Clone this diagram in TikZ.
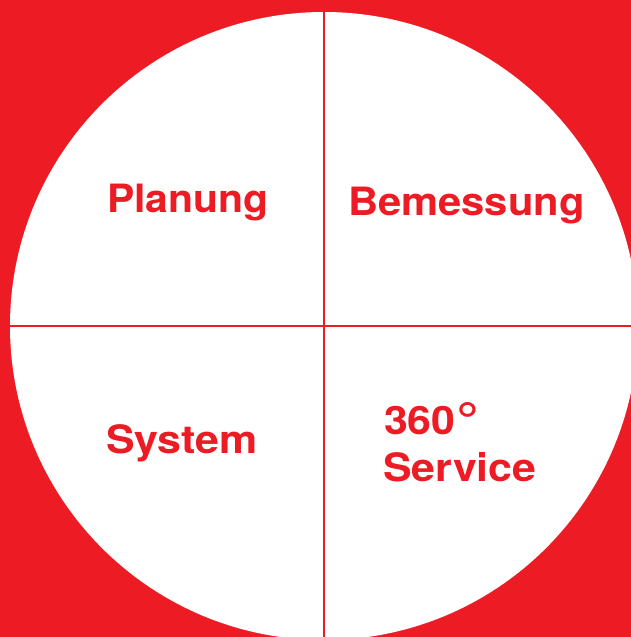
\documentclass[tikz,border=0pt]{standalone}
\usepackage{fontspec}
\setmainfont{TeX Gyre Heros}
\definecolor{brandred}{HTML}{ED1C24}
\begin{document}
\begin{tikzpicture}[x=1pt,y=-1pt,
  lbl/.style={anchor=base west,inner sep=0pt,outer sep=0pt,text=brandred,
    font=\fontsize{39}{48}\selectfont\bfseries},
  divider/.style={draw=brandred,line width=2.2pt}]
\useasboundingbox (0,0) rectangle (631,637);
\fill[brandred] (0,0) rectangle (631,637);
\begin{scope}
\clip (0,0) rectangle (631,637);
\fill[white] (324,326) circle[radius=314];
\coordinate (top) at (324,12);
\coordinate (bottom) at (324,637);
\coordinate (left) at (10,326);
\coordinate (right) at (631,326);
\draw[divider] (top) -- (bottom);
\draw[divider] (left) -- (right);
\end{scope}
\node[lbl] (planung) at (107,212.5) {\scalebox{1.05}[1]{Planung}};
\node[lbl] (bemessung) at (348,215.5) {\scalebox{1.07}[1]{Bemessung}};
\node[lbl] (system) at (106,453.5) {\scalebox{1.10}[1]{System}};
\node[lbl] (deg) at (384,434) {\scalebox{1.10}[1]{360\kern1pt{\fontsize{52}{52}\selectfont\raisebox{-5pt}{\textbf{°}}}}};
\node[lbl] (service) at (383,481.5) {\scalebox{1.10}[1]{Service}};
\end{tikzpicture}
\end{document}
